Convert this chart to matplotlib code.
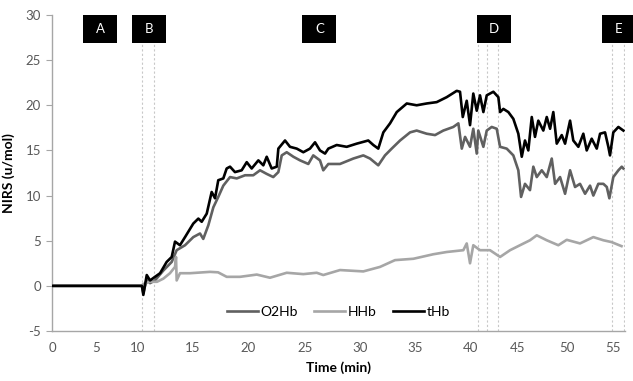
import matplotlib
matplotlib.use("Agg")
import matplotlib.pyplot as plt
import numpy as np
from matplotlib.patches import Rectangle
from matplotlib.transforms import ScaledTranslation

plt.rcParams['font.family'] = ['Lato', 'DejaVu Sans']
plt.rcParams['axes.unicode_minus'] = False

# --- data (time in min, NIRS in u/mol) ---
thb_t = [0, 10.4, 10.53, 10.84, 11.14, 11.59, 12.05, 12.65, 13.11, 13.41, 13.86, 14.32,
         15.07, 15.52, 15.82, 16.27, 16.71, 17.01, 17.30, 17.75, 18.05, 18.35, 18.79,
         19.39, 19.84, 20.28, 20.87, 21.31, 21.61, 22.05, 22.50, 22.64, 23.23, 23.67,
         24.27, 24.85, 25.45, 25.91, 26.36, 26.82, 27.12, 27.88, 28.79, 29.70, 30.75,
         31.21, 31.66, 32.12, 32.73, 33.34, 34.25, 35.15, 36.06, 36.97, 37.88, 38.79,
         39.09, 39.34, 39.70, 40.0, 40.34, 40.70, 41.04, 41.39, 41.74, 42.08, 42.43,
         42.95, 43.13, 43.47, 43.99, 44.51, 45.03, 45.38, 45.71, 46.05, 46.40, 46.73,
         47.07, 47.58, 47.93, 48.27, 48.60, 48.95, 49.46, 49.80, 50.33, 50.68, 51.23,
         51.77, 52.14, 52.68, 53.23, 53.59, 54.13, 54.49, 54.67, 55.03, 55.58, 56.12]
thb_v = [0, 0, -1.0, 1.2, 0.6, 1.0, 1.4, 2.65, 3.2, 4.9, 4.5, 5.4,
         6.9, 7.45, 7.1, 8.0, 10.4, 9.7, 11.7, 11.9, 13.0, 13.2, 12.6,
         12.8, 13.7, 13.0, 13.9, 13.35, 14.3, 13.0, 13.2, 15.2, 16.1, 15.4,
         15.2, 14.8, 15.2, 15.9, 15.0, 14.65, 15.2, 15.6, 15.4, 15.75, 16.1,
         15.6, 15.2, 17.0, 18.0, 19.25, 20.2, 20.0, 20.2, 20.35, 20.9, 21.6,
         21.5, 18.7, 20.5, 17.8, 21.3, 19.4, 21.1, 19.25, 21.1, 21.3, 21.5,
         20.9, 19.25, 19.6, 19.25, 18.5, 16.85, 14.3, 16.1, 15.0, 18.7, 16.5,
         18.3, 17.2, 18.7, 17.4, 19.25, 15.75, 16.7, 15.75, 18.3, 16.1, 15.4,
         16.85, 15.0, 16.3, 15.2, 16.85, 17.0, 15.4, 14.45, 17.0, 17.6, 17.2]

o2hb_t = [0, 10.4, 10.53, 10.84, 11.14, 11.59, 12.35, 13.11, 13.56, 14.32, 15.07, 15.67,
          15.96, 16.41, 16.86, 17.30, 17.75, 18.35, 18.95, 19.69, 20.42, 21.02, 21.61,
          22.19, 22.64, 22.94, 23.38, 23.97, 24.56, 25.30, 25.75, 26.36, 26.66, 27.12,
          28.18, 29.39, 30.30, 30.91, 31.66, 32.27, 32.88, 33.64, 34.55, 35.15, 36.06,
          36.82, 37.57, 38.48, 38.94, 39.25, 39.55, 40.0, 40.34, 40.70, 40.86, 41.39,
          41.74, 42.26, 42.78, 43.13, 43.82, 44.51, 45.03, 45.31, 45.71, 46.22, 46.56,
          46.91, 47.42, 47.93, 48.44, 48.78, 49.29, 49.80, 50.33, 50.87, 51.41, 51.96,
          52.50, 52.86, 53.40, 53.95, 54.32, 54.60, 55.03, 55.58, 55.95, 56.12]
o2hb_v = [0, 0, -0.8, 0.8, 0.3, 0.6, 1.7, 2.65, 3.95, 4.5, 5.4, 5.8,
          5.2, 6.7, 8.7, 9.85, 11.1, 12.05, 11.9, 12.25, 12.25, 12.8, 12.4,
          12.05, 12.6, 14.45, 14.8, 14.3, 13.9, 13.5, 14.45, 13.9, 12.8, 13.5,
          13.5, 14.1, 14.45, 14.1, 13.35, 14.45, 15.2, 16.1, 17.0, 17.2, 16.85,
          16.7, 17.2, 17.6, 18.0, 15.2, 16.5, 15.4, 17.4, 14.65, 17.2, 15.4,
          17.2, 17.6, 17.4, 15.4, 15.2, 14.45, 12.8, 9.85, 11.3, 10.6, 13.2,
          12.05, 12.8, 12.05, 14.1, 11.3, 12.05, 10.2, 12.8, 10.95, 11.3, 10.2,
          11.1, 10.0, 11.3, 11.3, 10.95, 9.7, 12.05, 12.8, 13.2, 13.0]

hhb_t = [0, 10.4, 10.5, 11.14, 11.77, 12.35, 12.95, 13.41, 13.5, 13.56, 13.86, 14.77,
         16.56, 17.28, 18.05, 19.24, 20.73, 21.90, 23.38, 24.85, 26.06, 26.66, 28.18,
         30.30, 31.82, 33.18, 34.85, 36.66, 37.88, 39.39, 39.70, 40.0, 40.34, 41.04,
         42.08, 43.13, 44.17, 45.20, 46.22, 46.91, 47.93, 49.11, 49.97, 51.41, 52.86,
         53.95, 54.83, 55.92]
hhb_v = [0, 0, 0.2, 0.45, 0.45, 0.8, 1.4, 2.1, 3.2, 0.6, 1.4, 1.4,
         1.55, 1.5, 1.0, 1.0, 1.25, 0.9, 1.45, 1.3, 1.45, 1.2, 1.75,
         1.6, 2.1, 2.85, 3.0, 3.5, 3.75, 3.95, 4.7, 2.5, 4.5, 3.95,
         3.95, 3.2, 3.95, 4.5, 5.05, 5.6, 5.05, 4.5, 5.1, 4.7, 5.4,
         5.05, 4.85, 4.4]

phase_labels = ['A', 'B', 'C', 'D', 'E']
phase_centers = [5.43, 11.05, 26.3, 42.5, 55.65]
event_times = [10.38, 11.53, 40.86, 41.8, 42.9, 54.84, 56.2]

x_ticks = list(range(0, 61, 5))
# the source axis is not evenly spaced: pixel position of each 5-min tick
tick_px = [52, 96.5, 137.5, 192.5, 248.5, 305, 360, 415, 470, 518, 567, 613, 659]


def fwd(x):
    return np.interp(x, x_ticks, tick_px)


def inv(p):
    return np.interp(p, tick_px, x_ticks)


fig = plt.figure(figsize=(6.33, 3.81), dpi=100)
ax = fig.add_axes([52 / 633, 1 - 331 / 381, 573 / 633, 316 / 381])
ax.set_xscale('function', functions=(fwd, inv))

ax.plot(o2hb_t, o2hb_v, color='#606060', lw=1.9, label='O2Hb', zorder=3)
ax.plot(hhb_t, hhb_v, color='#a6a6a6', lw=1.9, label='HHb', zorder=3)
ax.plot(thb_t, thb_v, color='black', lw=1.9, label='tHb', zorder=4)

ax.vlines(event_times, -5, 26.8, colors='#c8c8c8', linestyles=(0, (2, 2)), lw=0.8, zorder=1)

for lab, xc in zip(phase_labels, phase_centers):
    tr = fig.dpi_scale_trans + ScaledTranslation(xc, 28.45, ax.transData)
    ax.add_patch(Rectangle((-0.17, -0.14), 0.34, 0.28, transform=tr,
                           facecolor='black', edgecolor='none', clip_on=False, zorder=5))
    ax.text(xc, 28.45, lab, color='white', fontsize=9.5, ha='center', va='center',
            zorder=6, clip_on=False)

ax.set_xlim(0, 56.3)
ax.set_ylim(-5, 30)
ax.set_xticks(x_ticks[:-1])
ax.set_yticks(range(-5, 31, 5))

for s in ['top', 'right']:
    ax.spines[s].set_visible(False)
for s in ['left', 'bottom']:
    ax.spines[s].set_color('#a6a6a6')
    ax.spines[s].set_linewidth(1.0)
ax.tick_params(axis='x', length=0, pad=8, labelsize=9.5, labelcolor='#595959')
ax.tick_params(axis='y', length=4, color='#a6a6a6', pad=4, labelsize=9.5, labelcolor='#595959')

ax.set_xlabel('Time (min)', fontsize=10, fontweight='bold')
ax.set_ylabel('NIRS (u/mol)', fontsize=10, fontweight='bold')
ax.xaxis.set_label_coords(0.5, -0.095)
ax.yaxis.set_label_coords(-0.065, 0.5)

ax.legend(loc='center', bbox_to_anchor=(0.5, 0.06), ncol=3, frameon=False,
          fontsize=10, handlelength=2.2, handletextpad=0.2, columnspacing=1.2)

fig.savefig('out.png', dpi=100)
